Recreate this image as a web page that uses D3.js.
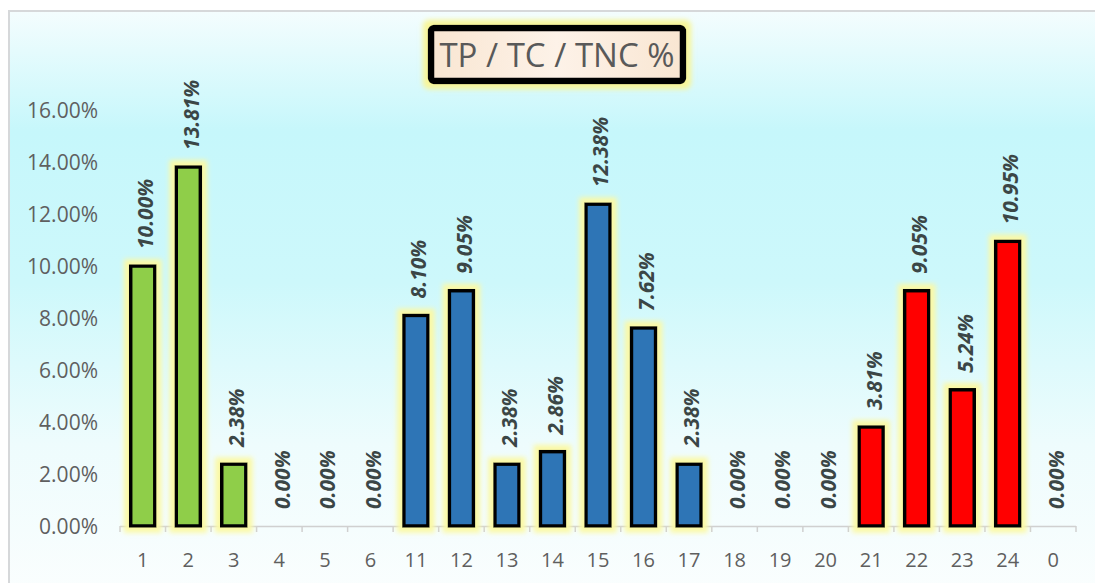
<!DOCTYPE html>
<html>
<head>
<meta charset="utf-8">
<script src="https://cdn.jsdelivr.net/npm/d3@7/dist/d3.min.js"></script>
<style>
  html, body { margin: 0; padding: 0; background: #ffffff; }
  svg { display: block; }
</style>
</head>
<body>
<svg id="chart" width="1095" height="583"></svg>
<script>
// Category labels along the x axis
const categories = ["1","2","3","4","5","6","11","12","13","14","15","16","17","18","19","20","21","22","23","24","0"];
// Share of each category, in percent
const values = [10.00, 13.81, 2.38, 0.00, 0.00, 0.00, 8.10, 9.05, 2.38, 2.86, 12.38, 7.62, 2.38, 0.00, 0.00, 0.00, 3.81, 9.05, 5.24, 10.95, 0.00];
// Group each category belongs to (drives the fill colour)
const groups = ["A","A","A","A","A","A","B","B","B","B","B","B","B","C","C","C","C","C","C","C","D"];
const groupColors = { A: "#8fce4a", B: "#2e75b6", C: "#ff0000", D: "#ff0000" };
// Y axis tick values (percent)
const yTicks = [0, 2, 4, 6, 8, 10, 12, 14, 16];
const title = "TP / TC / TNC %";

const svg = d3.select("#chart");
const W = 1095, H = 583;
const plot = { left: 120, right: 1076, top: 110, bottom: 526 };

const defs = svg.append("defs");

// Chart area background: white -> pale cyan -> white
const bg = defs.append("linearGradient").attr("id", "bgGrad")
  .attr("x1", 0).attr("y1", 0).attr("x2", 0).attr("y2", 1);
[[0, "#f4fdfe"], [0.2, "#c6f7fb"], [0.45, "#cdf8fb"], [0.72, "#eefcfd"], [1, "#fcfefe"]]
  .forEach(([o, c]) => bg.append("stop").attr("offset", o).attr("stop-color", c));

// Title box fill
const tg = defs.append("linearGradient").attr("id", "titleGrad")
  .attr("x1", 0).attr("y1", 0).attr("x2", 1).attr("y2", 0);
[[0, "#f9e6d2"], [0.5, "#fdf2e8"], [1, "#f9e6d2"]]
  .forEach(([o, c]) => tg.append("stop").attr("offset", o).attr("stop-color", c));

// Soft yellow glow around bars and the title box
function glow(id, radius, blur, color) {
  const f = defs.append("filter").attr("id", id)
    .attr("x", "-50%").attr("y", "-50%").attr("width", "200%").attr("height", "200%");
  f.append("feMorphology").attr("in", "SourceAlpha").attr("operator", "dilate")
    .attr("radius", radius).attr("result", "grown");
  f.append("feFlood").attr("flood-color", color).attr("result", "col");
  f.append("feComposite").attr("in", "col").attr("in2", "grown").attr("operator", "in").attr("result", "halo");
  f.append("feGaussianBlur").attr("in", "halo").attr("stdDeviation", blur).attr("result", "soft");
  const m = f.append("feMerge");
  m.append("feMergeNode").attr("in", "soft");
  m.append("feMergeNode").attr("in", "SourceGraphic");
}
glow("barGlow", 4.5, 2.6, "#fbf9a6");
glow("titleGlow", 5, 2.5, "#f8f59a");

// Chart frame
svg.append("rect")
  .attr("x", 9).attr("y", 11).attr("width", W + 20).attr("height", H + 20)
  .attr("fill", "url(#bgGrad)").attr("stroke", "#d6d8da").attr("stroke-width", 2);

// Scales
const x = d3.scaleBand().domain(categories).range([plot.left, plot.right])
  .paddingInner(0.47).paddingOuter(0.235);
const xSlot = d3.scaleBand().domain(categories).range([plot.left, plot.right]).padding(0);
const y = d3.scaleLinear().domain([0, 16]).range([plot.bottom, plot.top]);

const data = categories.map((c, i) => ({ cat: c, value: values[i], group: groups[i] }));

// Y axis labels
const yAxis = d3.axisLeft(y).tickValues(yTicks).tickSize(0).tickPadding(0)
  .tickFormat(d => d3.format(".2f")(d) + "%");
const gy = svg.append("g").attr("transform", `translate(${plot.left - 22},0)`).call(yAxis);
gy.select(".domain").remove();
gy.selectAll("text")
  .attr("fill", "#5f5f5f").attr("font-family", "'Open Sans', sans-serif").attr("font-size", 21)
  .attr("dy", "0.36em");

// X axis labels, line and boundary ticks
const xAxis = d3.axisBottom(x).tickSize(0).tickPadding(0);
const gx = svg.append("g").attr("transform", `translate(0,${plot.bottom})`).call(xAxis);
gx.select(".domain").remove();
gx.selectAll("text")
  .attr("fill", "#5f5f5f").attr("font-family", "'Open Sans', sans-serif").attr("font-size", 20)
  .attr("dy", 0).attr("y", 41);

svg.append("line")
  .attr("x1", plot.left).attr("x2", plot.right)
  .attr("y1", plot.bottom + 0.5).attr("y2", plot.bottom + 0.5)
  .attr("stroke", "#d0d0d0").attr("stroke-width", 1.5);
const bounds = categories.map(c => xSlot(c)).concat([plot.right]);
svg.append("g").selectAll("line").data(bounds).join("line")
  .attr("x1", d => d).attr("x2", d => d)
  .attr("y1", plot.bottom).attr("y2", plot.bottom + 6)
  .attr("stroke", "#d0d0d0").attr("stroke-width", 1.5);

// Bars
svg.append("g").selectAll("rect").data(data.filter(d => d.value > 0)).join("rect")
  .attr("x", d => x(d.cat))
  .attr("y", d => y(d.value))
  .attr("width", x.bandwidth())
  .attr("height", d => y(0) - y(d.value))
  .attr("fill", d => groupColors[d.group])
  .attr("stroke", "#000000").attr("stroke-width", 3.5)
  .attr("filter", "url(#barGlow)");

// Value labels, rotated
svg.append("g").selectAll("text").data(data).join("text")
  .attr("transform", d => `translate(${x(d.cat) + x.bandwidth() / 2 + 3},${y(d.value) - 17}) rotate(-90)`)
  .attr("dy", "0.35em")
  .attr("text-anchor", "start")
  .attr("fill", "#3b4646")
  .attr("font-family", "'Open Sans', sans-serif")
  .attr("font-size", 21).attr("font-weight", "bold").attr("font-style", "italic")
  .text(d => d3.format(".2f")(d.value) + "%");

// Title box
const tgGroup = svg.append("g");
tgGroup.append("rect")
  .attr("x", 431).attr("y", 28).attr("width", 252).attr("height", 53).attr("rx", 3)
  .attr("fill", "url(#titleGrad)").attr("stroke", "#000000").attr("stroke-width", 6.5)
  .attr("filter", "url(#titleGlow)");
tgGroup.append("text")
  .attr("x", 557).attr("y", 55).attr("dy", "0.36em")
  .attr("text-anchor", "middle")
  .attr("fill", "#595959").attr("font-family", "'Open Sans', sans-serif").attr("font-size", 33)
  .text(title);
</script>
</body>
</html>
